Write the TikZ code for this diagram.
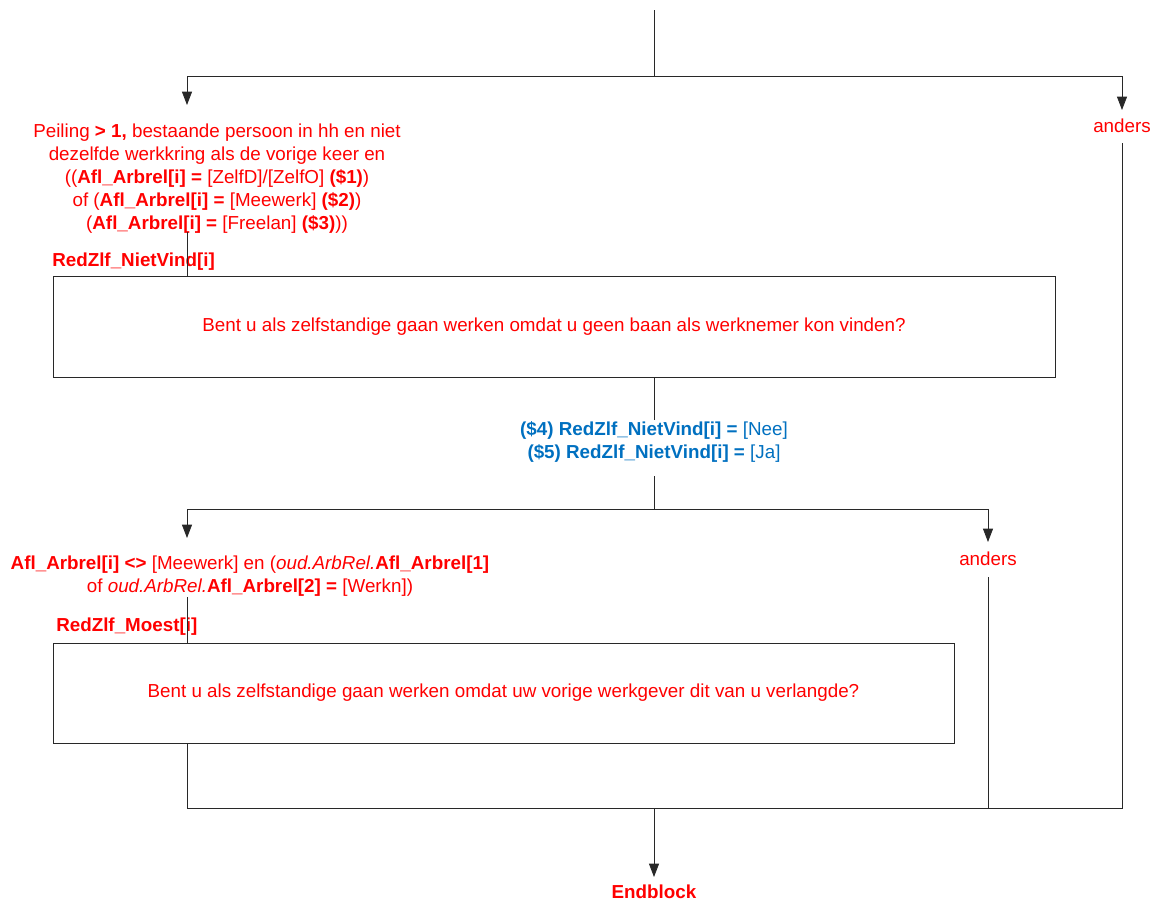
\documentclass[tikz,border=0pt]{standalone}
\usepackage{fontspec}
\setmainfont{Liberation Sans}
\usetikzlibrary{arrows.meta}
\definecolor{cred}{RGB}{255,0,0}
\definecolor{cblue}{RGB}{0,112,192}
\definecolor{cline}{RGB}{40,40,40}
\tikzset{
  x=0.75pt,y=-0.75pt,
  txt/.style={font=\fontsize{14.1}{17.25}\selectfont, text=cred, inner sep=0pt, align=center},
  btxt/.style={txt, text=cblue},
  conn/.style={draw=cline, line width=0.6pt},
  arr/.style={conn, -{Triangle[length=10pt,width=7.5pt]}},
  qbox/.style={draw=cline, line width=0.6pt, txt}
}
\begin{document}
\begin{tikzpicture}
\useasboundingbox (0,0) rectangle (1158,904);
% top branching
\coordinate (top) at (654,10);
\coordinate (j1) at (654,76);
\coordinate (l1) at (187,76);
\coordinate (r1) at (1122,76);
\coordinate (a1) at (187,105);
\coordinate (a2) at (1122,110);
\node[txt] (and1) at (1122,126) {anders};
\coordinate (and1b) at (1122,143);
\node[txt] (c1) at (217,178.5) {Peiling \textbf{> 1,} bestaande persoon in hh en niet\\
dezelfde werkkring als de vorige keer en\\
((\textbf{Afl\_Arbrel[i] =} [ZelfD]/[ZelfO] \textbf{(\$1)})\\
of (\textbf{Afl\_Arbrel[i] =} [Meewerk] \textbf{(\$2)})\\
(\textbf{Afl\_Arbrel[i] =} [Freelan] \textbf{(\$3)}))};
\coordinate (c1b) at (187,232);
\node[txt, anchor=west] (lab1) at (52,262) {\textbf{RedZlf\_NietVind[i]}};
\node[qbox, minimum width=751.5pt, minimum height=75.75pt] (box1) at (554,326.5)
  {Bent u als zelfstandige gaan werken omdat u geen baan als werknemer kon vinden?};
\coordinate (b1) at (654,377);
\coordinate (b1e) at (654,420);
\node[btxt] (cond2) at (654,442) {\textbf{(\$4) RedZlf\_NietVind[i] =} [Nee]\\ \textbf{(\$5) RedZlf\_NietVind[i] =} [Ja]};
\coordinate (cond2b) at (654,476);
\coordinate (j2) at (654,509);
\coordinate (l2) at (187,509);
\coordinate (r2) at (988,509);
\coordinate (a3) at (187,538);
\coordinate (a4) at (988,542);
\node[txt] (and2) at (988,559) {anders};
\coordinate (and2b) at (988,577);
\node[txt] (c3) at (250,576) {\textbf{Afl\_Arbrel[i] <>} [Meewerk] en (\textit{oud.ArbRel.}\textbf{Afl\_Arbrel[1]}\\
of \textit{oud.ArbRel.}\textbf{Afl\_Arbrel[2] =} [Werkn])};
\coordinate (c3b) at (187,597);
\node[txt, anchor=west] (lab2) at (56,627) {\textbf{RedZlf\_Moest[i]}};
\node[qbox, minimum width=675.75pt, minimum height=75pt] (box2) at (503.5,693)
  {Bent u als zelfstandige gaan werken omdat uw vorige werkgever dit van u verlangde?};
\coordinate (m1) at (187,808);
\coordinate (m2) at (988,808);
\coordinate (m3) at (1122,808);
\coordinate (mj) at (654,808);
\coordinate (a5) at (654,877);
\node[txt] (end) at (654,892) {\textbf{Endblock}};
% connectors
\draw[conn] (top) -- (j1);
\draw[conn] (l1) -- (r1);
\draw[arr] (l1) -- (a1);
\draw[arr] (r1) -- (a2);
\draw[conn] (c1b) -- (c1b |- box1.north);
\draw[conn] (b1) -- (b1e);
\draw[conn] (cond2b) -- (j2);
\draw[conn] (l2) -- (r2);
\draw[arr] (l2) -- (a3);
\draw[arr] (r2) -- (a4);
\draw[conn] (and2b) -- (m2);
\draw[conn] (c3b) -- (c3b |- box2.north);
\draw[conn] (m1 |- box2.south) -- (m1) -- (m3) -- (and1b);
\draw[arr] (mj) -- (a5);
\end{tikzpicture}
\end{document}
